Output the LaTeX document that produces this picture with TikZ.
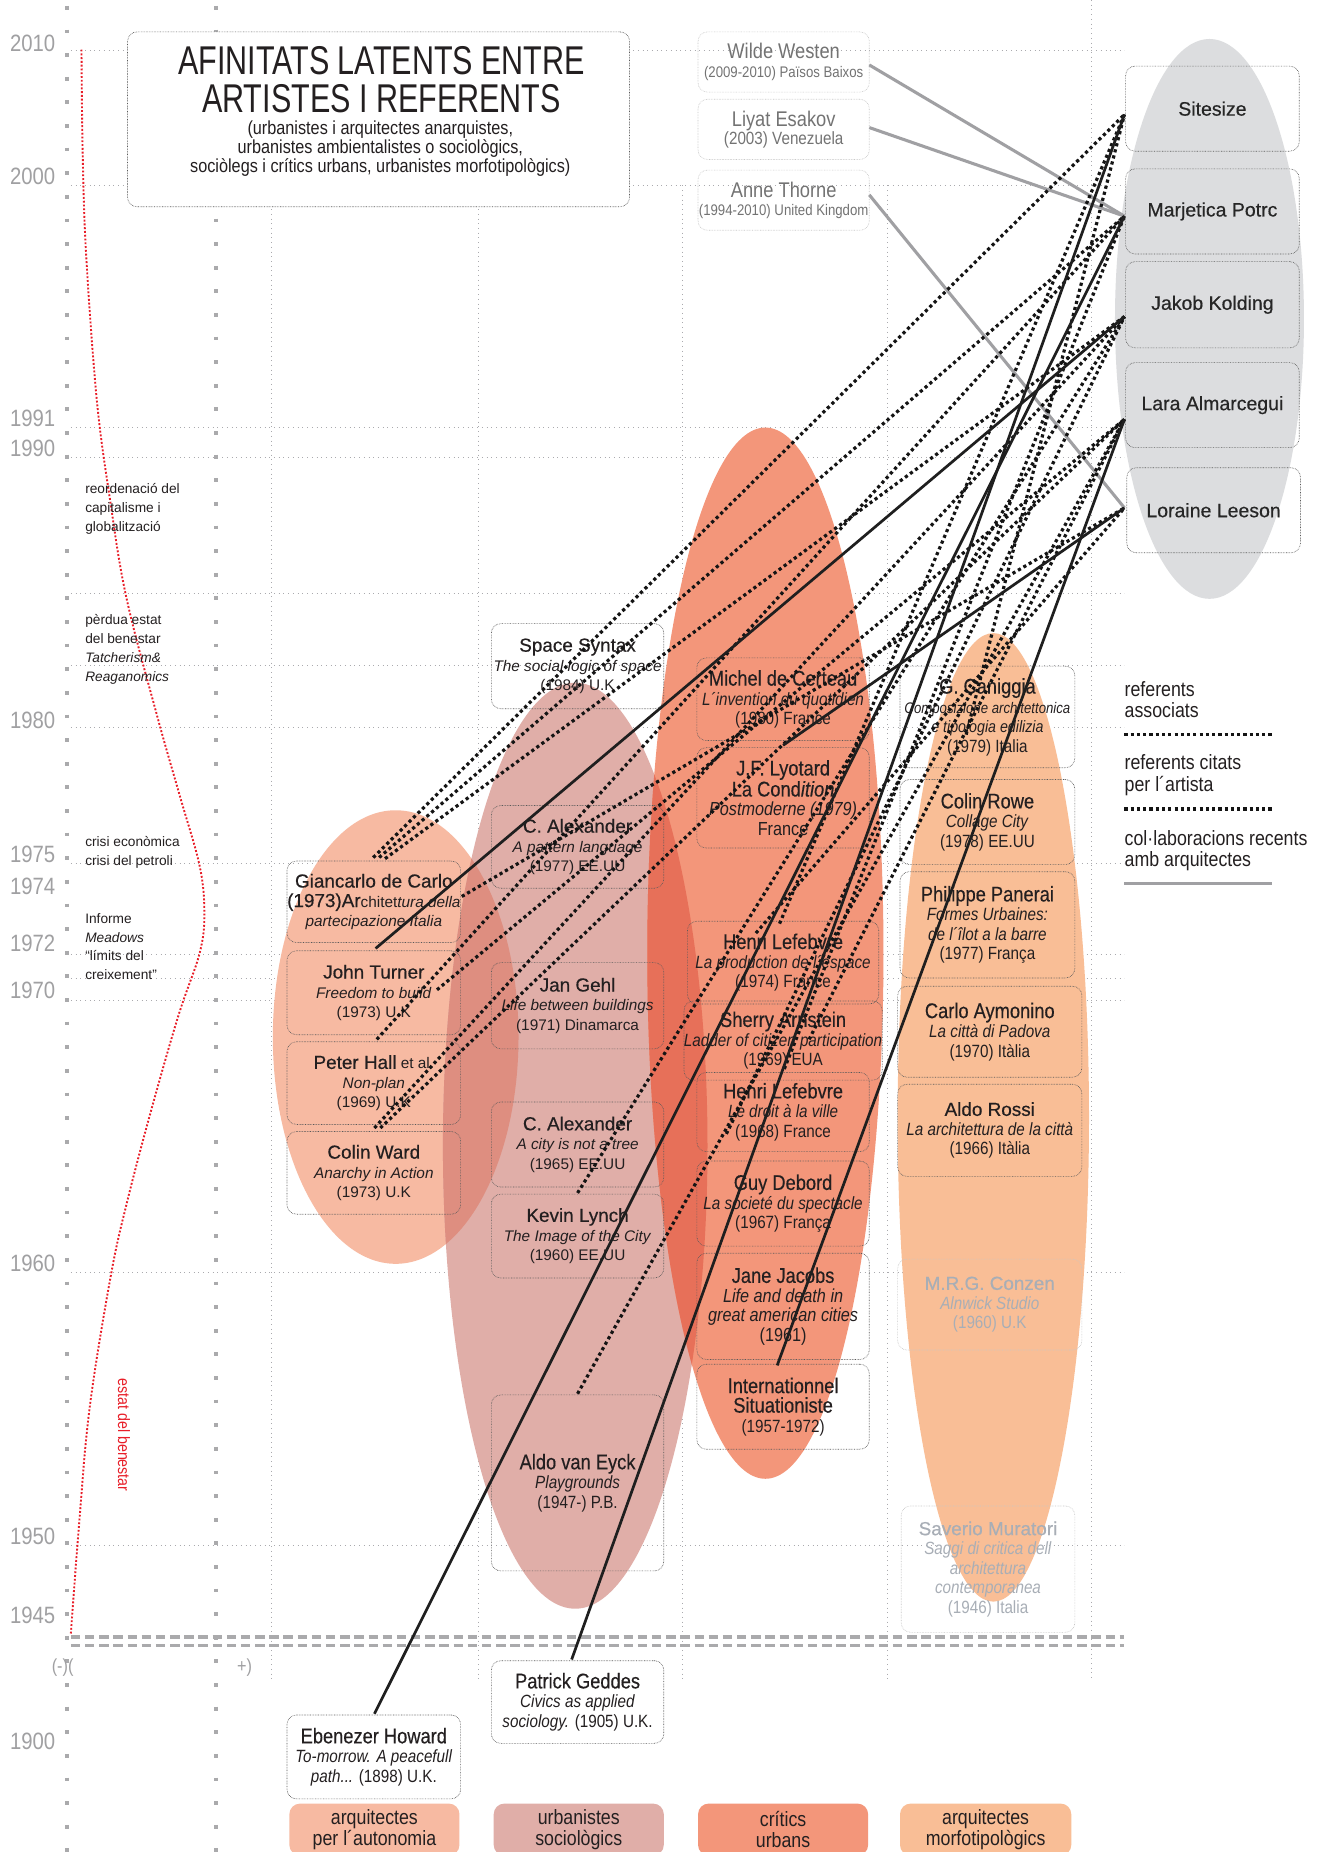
\documentclass[tikz,border=0pt]{standalone}
\usepackage{fontspec}
\setmainfont{Liberation Sans}
\newfontfamily\cond{Liberation Sans}[FakeStretch=0.86]
\newfontfamily\condm{Liberation Sans}[FakeStretch=0.86, FakeBold=0.35]
\newfontfamily\medf{Liberation Sans}[FakeBold=0.45]
\newfontfamily\titlef{Liberation Sans}[FakeStretch=0.76]
\definecolor{cPeach}{RGB}{247,186,162}
\definecolor{cPink}{RGB}{224,174,168}
\definecolor{cOrange}{RGB}{243,150,122}
\definecolor{cLight}{RGB}{249,190,150}
\definecolor{cPP}{RGB}{222,142,128}
\definecolor{cPO}{RGB}{231,112,89}
\definecolor{cGrayE}{RGB}{220,221,223}
\definecolor{cAxis}{RGB}{170,170,172}
\definecolor{cGridC}{RGB}{170,170,174}
\definecolor{cInk}{RGB}{35,31,32}
\definecolor{cFade}{RGB}{168,174,182}
\definecolor{cYear}{RGB}{160,160,162}
\definecolor{cCollab}{RGB}{160,160,163}
\definecolor{cRed}{RGB}{232,30,40}
\newcommand\nA{\medf\fontsize{16}{16.5}\selectfont}
\newcommand\nB{\condm\fontsize{18}{16.5}\selectfont}
\tikzset{
  gridl/.style={cGridC, line width=0.7pt, dash pattern=on 0.7pt off 3.3pt},
  axisdots/.style={cAxis, line width=3.2pt, dash pattern=on 3.2pt off 16.8pt},
  rbox/.style={draw=black!65, line width=0.55pt, dash pattern=on 0.55pt off 0.8pt, rounded corners=8pt, inner sep=0pt, align=center, text=cInk},
  rboxA/.style={rbox, font=\fontsize{13}{16.5}\selectfont},
  rboxB/.style={rbox, font=\cond\fontsize{15}{16.5}\selectfont},
  fadebox/.style={rbox, draw=black!22, text=cFade, font=\cond\fontsize{15}{16.5}\selectfont},
  topbox/.style={rbox, draw=black!22, text=black!55, font=\cond\fontsize{13}{15.5}\selectfont},
  artbox/.style={rbox, text=black!85, font=\medf\fontsize{16.5}{18}\selectfont},
  catbox/.style={rounded corners=9pt, inner sep=0pt, align=center, font=\cond\fontsize{17.5}{18}\selectfont, text=cInk},
  refdot/.style={black!92, line width=2.7pt, dash pattern=on 2.7pt off 2.6pt},
  refsolid/.style={black!88, line width=2.3pt},
  collab/.style={cCollab, line width=2.6pt},
  yearlbl/.style={anchor=base east, text=cYear, font=\cond\fontsize{20}{20}\selectfont, inner sep=0pt},
  annot/.style={anchor=north west, align=left, inner sep=0pt, font=\fontsize{11.6}{16}\selectfont, text=cInk},
  legtxt/.style={anchor=north west, align=left, inner sep=0pt, font=\cond\fontsize{17.5}{18}\selectfont, text=cInk},
  ttl/.style={inner sep=0pt, text=cInk, font=\titlef\fontsize{34}{34}\selectfont},
}
\begin{document}
\begin{tikzpicture}[x=1pt,y=-1pt]
\useasboundingbox (0,0) rectangle (1118,1568);
\fill[white] (0,0) rectangle (1118,1568);

% ---------- grid ----------
\foreach \yy in {43,157,362,387,502,563,616,731,808,828,847,1077,1308}
  \draw[gridl] (60,\yy) -- (952,\yy);
\foreach \xx in {230,405,578,751}
  \draw[gridl] (\xx,157) -- (\xx,1423);
\draw[gridl] (924,0) -- (924,1423);
\draw[axisdots] (57,5) -- (57,1568);
\draw[axisdots] (183,5) -- (183,1568);

% ---------- ellipses ----------
\fill[cPeach] (335,878) ellipse [x radius=104, y radius=192];
\fill[cPink] (487,970) ellipse [x radius=112, y radius=392];
\fill[cOrange] (648,807) ellipse [x radius=100, y radius=445];
\fill[cLight] (841,946) ellipse [x radius=81, y radius=410];
\fill[cGrayE] (1024,270) ellipse [x radius=80, y radius=237];
\begin{scope}
  \clip (335,878) ellipse [x radius=104, y radius=192];
  \fill[cPP] (487,970) ellipse [x radius=112, y radius=392];
\end{scope}
\begin{scope}
  \clip (648,807) ellipse [x radius=100, y radius=445];
  \fill[cPO] (487,970) ellipse [x radius=112, y radius=392];
\end{scope}

% ---------- year axis ----------
\foreach \yr/\yy in {2010/36,2000/149,1991/354,1990/379,1980/609,1975/723,1974/750,1972/798,1970/838,1960/1069,1950/1300,1945/1367,1900/1474}
  \node[yearlbl] (y\yr) at (47,\yy+7.5) {\yr};
\node[text=cYear, font=\cond\fontsize{16}{16}\selectfont, inner sep=0pt] (minus) at (53,1412) {(-)(};
\node[text=cYear, font=\cond\fontsize{16}{16}\selectfont, inner sep=0pt] (plus) at (207,1412) {+)};
\draw[cAxis, line width=3pt, dash pattern=on 8pt off 4pt] (60,1386) -- (952,1386);
\draw[cAxis, line width=3pt, dash pattern=on 8pt off 4pt] (60,1393) -- (952,1393);

% ---------- welfare curve ----------
\draw[cRed, line width=1.6pt, dash pattern=on 1.6pt off 1.6pt] plot[smooth, tension=0.6] coordinates {(69,42) (70,130) (73,217) (82,339) (93,422) (107,506) (133,606) (152,673) (169,733) (173,773) (169,807) (151,860) (128,940) (108,1016) (94,1079) (76,1191) (67,1290) (60,1383)};
\node[rotate=-90, text=cRed, font=\cond\fontsize{14}{14}\selectfont, inner sep=0pt] (benestar) at (105,1215) {estat del benestar};

\node[annot] (n1) at (72,409) {reordenació del\\capitalisme i\\globalització};
\node[annot] (n2) at (72,520) {pèrdua estat\\del benestar\\\textit{Tatcherism\&}\\\textit{Reaganomics}};
\node[annot] (n3) at (72,708) {crisi econòmica\\crisi del petroli};
\node[annot] (n4) at (72,773) {Informe\\\textit{Meadows}\\“límits del\\creixement”};

% ---------- title ----------
\node[rbox, fill=white, minimum width=425, minimum height=148] (titlebox) at (320.5,101) {};
\node[ttl] (title1) at (323,51) {AFINITATS LATENTS ENTRE};
\node[ttl] (title2) at (323,83.5) {ARTISTES I REFERENTS};
\node[inner sep=0pt, align=center, text=cInk, font=\cond\fontsize{16}{16}\selectfont] (subtitle) at (322,126) {(urbanistes i arquitectes anarquistes,\\urbanistes ambientalistes o sociològics,\\sociòlegs i crítics urbans, urbanistes morfotipològics)};

% ---------- top collaborator boxes ----------
\node[topbox, minimum width=145, minimum height=51] (ww) at (663.5,52.5) {{\cond\fontsize{18}{16.5}\selectfont Wilde Westen}\\(2009-2010) Països Baixos};
\node[topbox, minimum width=145, minimum height=51] (le) at (663.5,109.5) {{\cond\fontsize{18}{16.5}\selectfont Liyat Esakov}\\{\fontsize{15}{15.5}\selectfont (2003) Venezuela}};
\node[topbox, minimum width=145, minimum height=51] (at) at (663.5,169.5) {{\cond\fontsize{18}{16.5}\selectfont Anne Thorne}\\(1994-2010) United Kingdom};

% ---------- artists ----------
\node[artbox, minimum width=147, minimum height=72] (ss1) at (1026.5,92) {Sitesize};
\node[artbox, minimum width=147, minimum height=72] (mp) at (1026.5,179) {Marjetica Potrc};
\node[artbox, minimum width=147, minimum height=73] (jk) at (1026.5,258) {Jakob Kolding};
\node[artbox, minimum width=147, minimum height=72] (la) at (1026.5,343) {Lara Almarcegui};
\node[artbox, minimum width=147, minimum height=72] (ll) at (1027.5,432) {Loraine Leeson};
\coordinate (S) at (952,97);
\coordinate (M) at (952,183);
\coordinate (J) at (952,268);
\coordinate (L) at (952,355);
\coordinate (Lo) at (952,430);

% ---------- column 1 ----------
\node[rboxA, minimum width=147, minimum height=69] (gc) at (316.5,763.5) {{\nA Giancarlo de Carlo}\\{\nA (1973)Ar}chitet\textit{tura della}\\\textit{partecipazione Italia}};
\node[rboxA, minimum width=147, minimum height=71] (jt) at (316.5,840.5) {{\nA John Turner}\\\textit{Freedom to build}\\(1973) U.K};
\node[rboxA, minimum width=147, minimum height=70] (ph) at (316.5,917) {{\nA Peter Hall} et al.\\\textit{Non-plan}\\(1969) U.K};
\node[rboxA, minimum width=147, minimum height=70] (cw) at (316.5,993) {{\nA Colin Ward}\\\textit{Anarchy in Action}\\(1973) U.K};
\node[rboxB, fill=white, minimum width=147, minimum height=71] (eh) at (316.5,1487.5) {{\nB Ebenezer Howard}\\\textit{To-morrow. A peacefull}\\\textit{path...} (1898) U.K.};

% ---------- column 2 ----------
\node[rboxA, minimum width=146, minimum height=72] (sx) at (489,564) {{\nA Space Syntax}\\\textit{The social logic of space}\\(1984) U.K};
\node[rboxA, minimum width=146, minimum height=70] (caa) at (489,717) {{\nA C. Alexander}\\\textit{A pattern language}\\(1977) EE.UU};
\node[rboxA, minimum width=146, minimum height=73] (jg) at (489,851.5) {{\nA Jan Gehl}\\\textit{Life between buildings}\\(1971) Dinamarca};
\node[rboxA, minimum width=146, minimum height=72] (cab) at (489,969) {{\nA C. Alexander}\\\textit{A city is not a tree}\\(1965) EE.UU};
\node[rboxA, minimum width=146, minimum height=71] (kl) at (489,1046.5) {{\nA Kevin Lynch}\\\textit{The Image of the City}\\(1960) EE.UU};
\node[rboxB, minimum width=146, minimum height=149] (ve) at (489,1255.5) {{\nB Aldo van Eyck}\\\textit{Playgrounds}\\(1947-) P.B.};
\node[rboxB, fill=white, minimum width=146, minimum height=70] (pg) at (489,1441) {{\nB Patrick Geddes}\\\textit{Civics as applied}\\\textit{sociology.} (1905) U.K.};

% ---------- column 3 ----------
\node[rboxB, minimum width=146, minimum height=70] (mc) at (663,592) {{\nB Michel de Certeau}\\\textit{L´invention du quotidien}\\(1980) France};
\node[rboxB, minimum width=146, minimum height=85] (ly) at (663,675.5) {{\nB J.F. Lyotard}\\{\nB La Cond\textit{ition}}\\{\fontsize{16}{16.5}\selectfont\itshape Postmoderne (1979)}\\{\fontsize{16}{16.5}\selectfont France}};
\node[rboxB, minimum width=162, minimum height=70] (hla) at (663,815) {{\nB Henri Lefebvre}\\\textit{La production de l´espace}\\(1974) France};
\node[rboxB, minimum width=162, minimum height=67] (sa) at (663,881) {{\nB Sherry Arnstein}\\\textit{Ladder of citizen participation}\\(1969) EUA};
\node[rboxB, minimum width=146, minimum height=67] (hlb) at (663,941.5) {{\nB Henri Lefebvre}\\\textit{Le droit à la ville}\\(1968) France};
\node[rboxB, minimum width=146, minimum height=72] (gd) at (663,1019) {{\nB Guy Debord}\\\textit{La societé du spectacle}\\(1967) França};
\node[rboxB, minimum width=146, minimum height=90] (jj) at (663,1106) {{\nB Jane Jacobs}\\{\fontsize{16}{18}\selectfont\itshape Life and death in}\\{\fontsize{16}{18}\selectfont\itshape great american cities}\\{\fontsize{16}{18}\selectfont (1961)}};
\node[rboxB, minimum width=146, minimum height=72] (is) at (663,1191) {{\nB Internationnel}\\{\nB Situationiste}\\(1957-1972)};

% ---------- column 4 ----------
\node[rboxB, minimum width=148, minimum height=86] (cg) at (836,607) {{\nB G. Caniggia}\\{\fontsize{13}{15}\selectfont\itshape Composizione architettonica}\\{\fontsize{14}{15}\selectfont\itshape e tipologia edilizia}\\(1979) Italia};
\node[rboxB, minimum width=148, minimum height=72] (cr) at (836,696) {{\nB Colin Rowe}\\\textit{Collage City}\\(1978) EE.UU};
\node[rboxB, minimum width=148, minimum height=90] (pp) at (836,783) {{\nB Philippe Panerai}\\\textit{Formes Urbaines:}\\\textit{de l´îlot a la barre}\\(1977) França};
\node[rboxB, minimum width=156, minimum height=77] (ay) at (838,873.5) {{\nB Carlo Aymonino}\\\textit{La città di Padova}\\(1970) Itàlia};
\node[rboxB, minimum width=156, minimum height=78] (ar) at (838,957) {{\nA Aldo Rossi}\\\textit{La architettura de la città}\\(1966) Itàlia};
\node[fadebox, minimum width=156, minimum height=77] (cz) at (838,1104.5) {{\medf\fontsize{16}{16.5}\selectfont M.R.G. Conzen}\\\textit{Alnwick Studio}\\(1960) U.K};
\node[fadebox, minimum width=147, minimum height=107] (sm) at (836.5,1328.5) {{\medf\fontsize{16}{16.5}\selectfont Saverio Muratori}\\\textit{Saggi di critica dell}\\\textit{architettura}\\\textit{contemporanea}\\(1946) Italia};

% ---------- category labels ----------
\node[catbox, fill=cPeach, minimum width=144, minimum height=44] (k1) at (317,1549) {arquitectes\\per l´autonomia};
\node[catbox, fill=cPink, minimum width=144, minimum height=44] (k2) at (490,1549) {urbanistes\\sociològics};
\node[catbox, fill=cOrange, minimum width=144, minimum height=44] (k3) at (663,1549) {crítics\\urbans};
\node[catbox, fill=cLight, minimum width=145, minimum height=44] (k4) at (834.5,1549) {arquitectes\\morfotipològics};

% ---------- legend ----------
\node[legtxt] (lg1) at (952,577) {referents\\associats};
\node[legtxt] (lg2) at (952,639) {referents citats\\per l´artista};
\node[legtxt] (lg3) at (952,703) {col·laboracions recents\\amb arquitectes};
\coordinate (lg1a) at (952,622); \coordinate (lg1b) at (1077,622);
\coordinate (lg2a) at (952,685); \coordinate (lg2b) at (1077,685);
\coordinate (lg3a) at (952,748); \coordinate (lg3b) at (1077,748);
\draw[refdot] (lg1a) -- (lg1b);
\draw[refdot] (lg2a) -- (lg2b);
\draw[collab] (lg3a) -- (lg3b);

% ---------- connector end points on referents ----------
\coordinate (gc1) at (316,726);
\coordinate (gc2) at (321,726);
\coordinate (gc3) at (326,727);
\coordinate (gcE) at (391,759);
\coordinate (jtT) at (318,803);
\coordinate (jtE) at (370,838);
\coordinate (phT) at (319,880);
\coordinate (cw1) at (317,955);
\coordinate (cw2) at (322,955);
\coordinate (klT) at (489,1010);
\coordinate (veT) at (489,1180);
\coordinate (ehT) at (317,1451);
\coordinate (pgT) at (484,1405);
\coordinate (jjB) at (658,1156);
\coordinate (lyT) at (663,631);
\coordinate (hlT) at (660,782);
\coordinate (hlL) at (640,790);
\coordinate (saB) at (664,905);
\coordinate (saT) at (685,880);
\coordinate (hbT) at (615,960);
\coordinate (cgT) at (818,622);
\coordinate (wwE) at (736,55);
\coordinate (leE) at (736,108);
\coordinate (atE) at (736,165);

% ---------- connectors ----------
\draw[collab] (wwE) -- (M);
\draw[collab] (leE) -- (M);
\draw[collab] (atE) -- (Lo);

\draw[refdot] (gc1) -- (S);
\draw[refdot] (gc2) -- (M);
\draw[refdot] (gc3) -- (J);
\draw[refdot] (gcE) -- (Lo);
\draw[refdot] (jtE) -- (L);
\draw[refdot] (phT) -- (M);
\draw[refdot] (cw1) -- (J);
\draw[refdot] (cw2) -- (L);
\draw[refdot] (klT) -- (J);
\draw[refdot] (veT) -- (L);
\draw[refdot] (hlT) -- (S);
\draw[refdot] (hlL) -- (Lo);
\draw[refdot] (saB) -- (M);
\draw[refdot] (saT) -- (L);
\draw[refdot] (hbT) -- (J);
\draw[refdot] (cgT) -- (S);

\draw[refsolid] (jtT) -- (J);
\draw[refsolid] (ehT) -- (M);
\draw[refsolid] (pgT) -- (S);
\draw[refsolid] (jjB) -- (L);
\draw[refsolid] (lyT) -- (Lo);
\end{tikzpicture}
\end{document}
